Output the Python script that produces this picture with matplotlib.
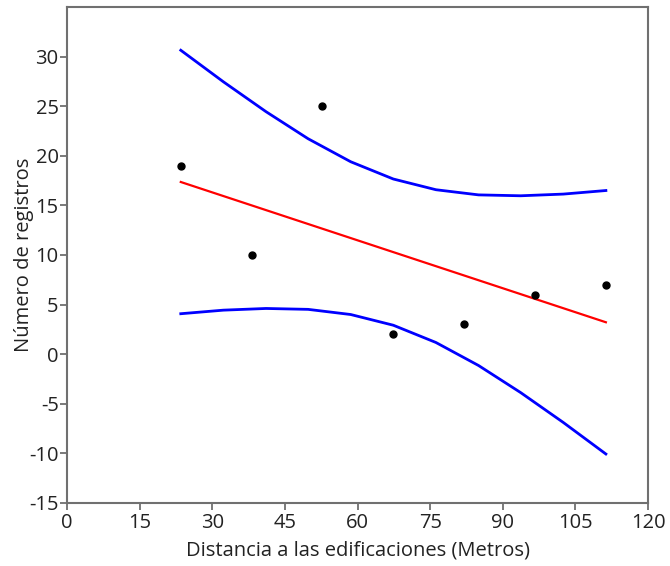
import matplotlib
matplotlib.use("Agg")
import matplotlib.pyplot as plt

plt.rcParams['font.family'] = ['Open Sans', 'DejaVu Sans']
plt.rcParams['axes.unicode_minus'] = False

# Observed points
dist = [23.5, 38.2, 52.7, 67.3, 82.0, 96.7, 111.3]
registros = [19, 10, 25, 2, 3, 6, 7]

# Regression line (ends)
fit_x = [23.5, 111.3]
fit_y = [17.36, 3.22]

# Confidence band curves
band_x = [23.5, 32.3, 41.1, 49.8, 58.6, 67.4, 76.2, 85.0, 93.7, 102.5, 111.3]
upper = [30.64, 27.46, 24.45, 21.72, 19.40, 17.66, 16.58, 16.06, 15.97, 16.14, 16.50]
lower = [4.08, 4.44, 4.61, 4.52, 4.00, 2.92, 1.18, -1.14, -3.87, -6.88, -10.06]

xticks = [0, 15, 30, 45, 60, 75, 90, 105, 120]
yticks = [-15, -10, -5, 0, 5, 10, 15, 20, 25, 30]

fig = plt.figure(figsize=(6.70, 5.66), dpi=100)
ax = fig.add_axes([67/670, 1 - 503/566, (648 - 67)/670, (503 - 7)/566])

ax.plot(band_x, upper, color='#0000ff', lw=2)
ax.plot(band_x, lower, color='#0000ff', lw=2)
ax.plot(fit_x, fit_y, color='#ff0000', lw=1.6)
ax.plot(dist, registros, 'o', color='black', markersize=5)

ax.set_xlim(0, 120)
ax.set_ylim(-15, 35)
ax.set_xticks(xticks)
ax.set_yticks(yticks)

for s in ax.spines.values():
    s.set_color('#707070')
    s.set_linewidth(1.5)
ax.tick_params(axis='both', colors='#707070', length=5, width=1.3,
               labelsize=14.5, labelcolor='#222222', pad=1)
ax.tick_params(axis='x', pad=2)

ax.set_xlabel('Distancia a las edificaciones (Metros)', fontsize=14.5, color='#222222', labelpad=0)
ax.set_ylabel('Número de registros', fontsize=14.5, color='#222222')
ax.yaxis.set_label_coords(-0.057, 0.5)
ax.xaxis.set_label_coords(0.5, -0.076)
ax.xaxis.label.set_verticalalignment('top')

fig.savefig('out.png', dpi=100)
